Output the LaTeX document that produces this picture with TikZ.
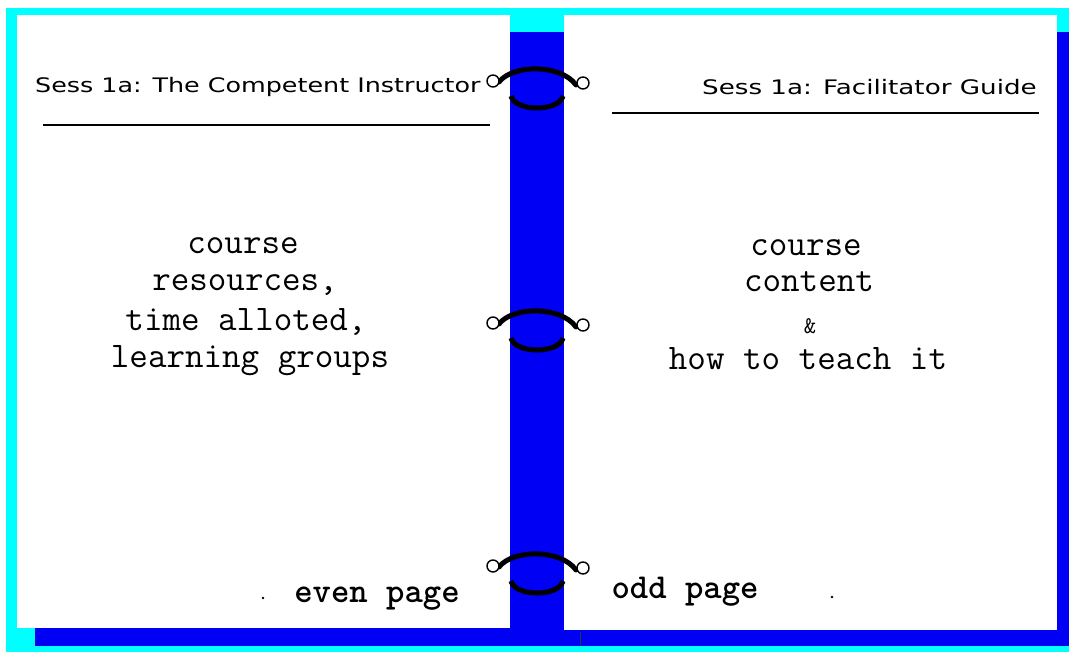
\documentclass[tikz,border=0pt]{standalone}
\usepackage{fontspec}
\setmainfont{Liberation Serif}
\newfontfamily\hdrfont{DejaVu Sans}
\definecolor{bindercyan}{RGB}{0,255,255}
\definecolor{binderblue}{RGB}{0,0,245}

\tikzset{
  binderring/.pic={
    % upper half of the ring, running out to the two eyelets
    \draw[line width=5pt, line cap=round] (-38,-6) .. controls (-24,-24) and (24,-24) .. (39,-3);
    % lower half of the ring, seen through the spine
    \draw[line width=5pt] (-26,8) .. controls (-22,24) and (22,24) .. (26,8);
    \draw[line width=1.4pt, fill=white] (-44,-7) circle (6);
    \draw[line width=1.4pt, fill=white] (46,-5) circle (6);
  }
}

\begin{document}
\begin{tikzpicture}[x=1pt,y=-1pt,
  header/.style={font=\hdrfont\fontsize{20}{20}\selectfont, inner sep=0pt},
  body/.style={font=\ttfamily\fontsize{36}{36}\selectfont, inner sep=0pt, anchor=base},
  tag/.style={font=\ttfamily\bfseries\fontsize{35}{35}\selectfont, inner sep=0pt, anchor=base},
  rule/.style={line width=2pt}
]
\useasboundingbox (0,0) rectangle (1069,652);
\fill[white] (0,0) rectangle (1069,652);
\fill[bindercyan] (6,8) rectangle (1069,652);

% shadows under and beside the open binder
\fill[binderblue] (35,628) rectangle (1069,646);
\fill[binderblue] (1057,32) rectangle (1069,646);
% spine
\fill[binderblue] (510,32) rectangle (564,646);
\draw[black!80, line width=1pt] (580,632) -- (580,645);

% the two pages
\fill[white] (17,15) rectangle (510,628);
\fill[white] (564,15) rectangle (1057,630);

% rings
\pic at (537,88) {binderring};
\pic at (537,330) {binderring};
\pic at (537,573) {binderring};

% running heads
\node[header, anchor=base west] (lefthead) at (35,93) {\scalebox{1.27}[1]{Sess 1a: The Competent Instructor}};
\node[header, anchor=base east] (righthead) at (1037,95) {\scalebox{1.31}[1]{Sess 1a: Facilitator Guide}};
\draw[rule] (43,125) -- (490,125);
\draw[rule] (612,113) -- (1039,113);

% left page body
\node[body] (l1) at (243,254) {course};
\node[body] (l2) at (245,291) {resources,};
\node[body] (l3) at (246,331) {time alloted,};
\node[body] (l4) at (250,368) {learning groups};

% right page body
\node[body] (r1) at (806,256) {course};
\node[body] (r2) at (809,292) {content};
\node[body, font=\ttfamily\fontsize{24}{24}\selectfont] (r3) at (810,334) {\&};
\node[body] (r4) at (808,370) {how to teach it};

% page labels
\node[tag] (even) at (377,602) {even page};
\node[tag] (odd) at (685,598) {odd page};
\fill (263,598) circle (1.3);
\fill (832,597) circle (1.3);
\end{tikzpicture}
\end{document}
